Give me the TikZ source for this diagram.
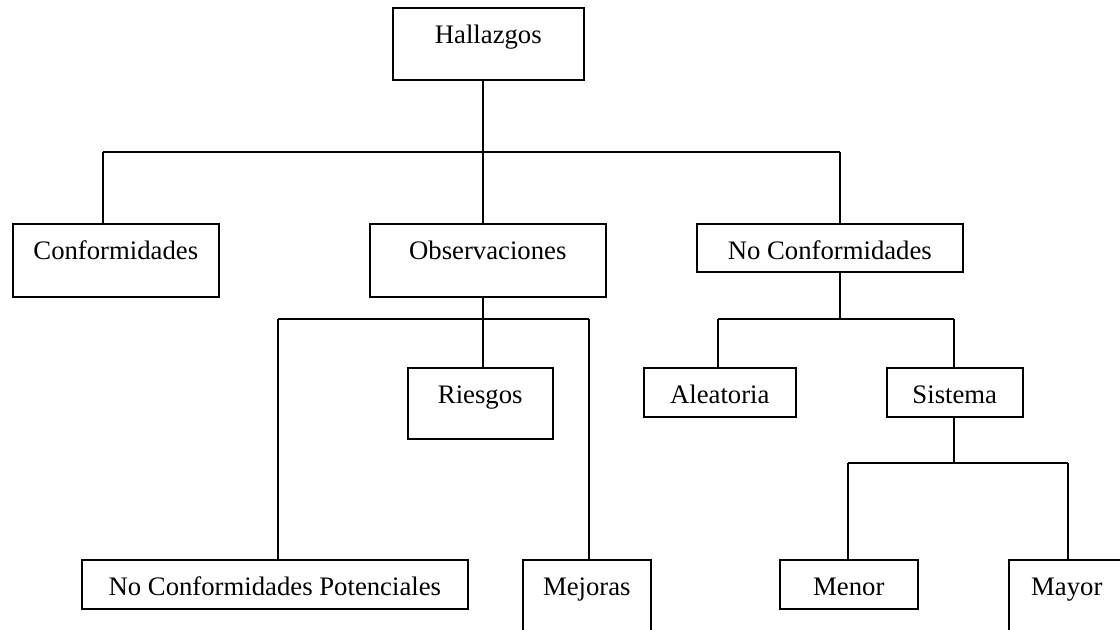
\documentclass[tikz,border=0pt]{standalone}
\usepackage{fontspec}
\setmainfont{Liberation Serif}
\begin{document}
\begin{tikzpicture} [x=0.025cm, y=-0.025cm, line width=1.1pt,
every node/.style={font=\fontsize{19}{22}\selectfont},
caja/.style={draw, anchor=north west, inner sep=0pt, text height=0.9cm, text depth=0.325cm}]
\useasboundingbox (0,0) rectangle (1120,630);
\clip (0,0) rectangle (1120,630);
%\tikzstyle{every node}=[draw];
\node [caja, minimum width=4.775cm, text depth=0.9cm] (hal) at (392,7) {Hallazgos};
\node [caja, minimum width=5.15cm, text depth=0.925cm] (con) at (12,223) {Conformidades};
\node [caja, minimum width=5.9cm, text depth=0.925cm] (obs) at (369,223) {Observaciones};
\node [caja, minimum width=6.65cm, text depth=0.3cm] (nc) at (696,223) {No Conformidades};
\node [caja, minimum width=3.625cm, text depth=0.875cm] (rie) at (407,367) {Riesgos};
\node [caja, minimum width=3.8cm] (ale) at (643,367) {Aleatoria};
\node [caja, minimum width=3.4cm] (sis) at (886,367) {Sistema};
\node [caja, minimum width=9.65cm] (ncp) at (81,559) {No Conformidades Potenciales};
\node [caja, minimum width=3.2cm, text depth=1.4cm] (mej) at (522,559) {Mejoras};
\node [caja, minimum width=3.45cm] (men) at (779,559) {Menor};
\node [caja, minimum width=2.9cm, text depth=1.4cm] (may) at (1008,559) {Mayor};
% branch points
\coordinate (t1) at (103,152);
\coordinate (t2) at (483,152);
\coordinate (t3) at (840,152);
\coordinate (o1) at (278,319);
\coordinate (o2) at (483,319);
\coordinate (o3) at (589,319);
\coordinate (n1) at (718,319);
\coordinate (n2) at (840,319);
\coordinate (n3) at (954,319);
\coordinate (s1) at (848,463);
\coordinate (s2) at (954,463);
\coordinate (s3) at (1068,463);
\draw (hal.south -| t2) -- (t2)
(t1) -- (t3)
(t1) -- (t1 |- con.north)
(t2) -- (t2 |- obs.north)
(t3) -- (t3 |- nc.north);
\draw (obs.south -| o2) -- (o2)
(o1) -- (o3)
(o1) -- (o1 |- ncp.north)
(o2) -- (o2 |- rie.north)
(o3) -- (o3 |- mej.north);
\draw (nc.south -| n2) -- (n2)
(n1) -- (n3)
(n1) -- (n1 |- ale.north)
(n3) -- (n3 |- sis.north);
\draw (sis.south -| s2) -- (s2)
(s1) -- (s3)
(s1) -- (s1 |- men.north)
(s3) -- (s3 |- may.north);
\end{tikzpicture}
\end{document}
